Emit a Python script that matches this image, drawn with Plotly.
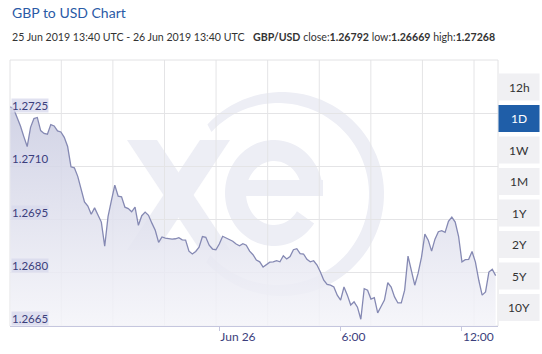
import numpy as np
import pandas as pd
import plotly.graph_objects as go

# ---------------- data ----------------
times = pd.date_range("2019-06-25 13:40", periods=145, freq="10min")
rates = [
    1.27268, 1.27262, 1.27238, 1.27214, 1.27184, 1.27156, 1.27210, 1.27235, 1.27238, 1.27201,
    1.27193, 1.27191, 1.27218, 1.27214, 1.27200, 1.27197, 1.27182, 1.27156, 1.27099, 1.27096,
    1.27072, 1.27033, 1.27000, 1.26988, 1.26965, 1.26983, 1.26961, 1.26943, 1.26875, 1.26959,
    1.27004, 1.27047, 1.27016, 1.27014, 1.26985, 1.26981, 1.26972, 1.26985, 1.26934, 1.26961,
    1.26971, 1.26962, 1.26940, 1.26920, 1.26886, 1.26901, 1.26898, 1.26896, 1.26895, 1.26896,
    1.26899, 1.26893, 1.26892, 1.26861, 1.26853, 1.26860, 1.26872, 1.26902, 1.26900, 1.26878,
    1.26867, 1.26865, 1.26881, 1.26903, 1.26899, 1.26893, 1.26889, 1.26881, 1.26876, 1.26882,
    1.26878, 1.26861, 1.26851, 1.26836, 1.26831, 1.26816, 1.26824, 1.26830, 1.26831, 1.26834,
    1.26831, 1.26848, 1.26839, 1.26846, 1.26865, 1.26868, 1.26854, 1.26853, 1.26838, 1.26831,
    1.26834, 1.26822, 1.26802, 1.26779, 1.26767, 1.26765, 1.26760, 1.26737, 1.26723, 1.26760,
    1.26737, 1.26709, 1.26718, 1.26703, 1.26669, 1.26755, 1.26751, 1.26726, 1.26730, 1.26687,
    1.26705, 1.26723, 1.26772, 1.26760, 1.26732, 1.26715, 1.26715, 1.26751, 1.26847, 1.26805,
    1.26765, 1.26799, 1.26844, 1.26909, 1.26892, 1.26861, 1.26895, 1.26916, 1.26919, 1.26914,
    1.26945, 1.26957, 1.26943, 1.26903, 1.26831, 1.26837, 1.26838, 1.26860, 1.26830, 1.26779,
    1.26737, 1.26746, 1.26802, 1.26810, 1.26792,
]
y_ticks = [1.2665, 1.2680, 1.2695, 1.2710, 1.2725]
y_grid = [1.2665, 1.2680, 1.2695, 1.2710, 1.2725, 1.2740]
x_tickvals = ["2019-06-26 00:00", "2019-06-26 06:00", "2019-06-26 12:00"]
x_ticktext = ["Jun 26", "6:00", "12:00"]
buttons = ["12h", "1D", "1W", "1M", "1Y", "2Y", "5Y", "10Y"]
selected_button = "1D"

title_text = "GBP to USD Chart"
range_text = "25 Jun 2019 13:40 UTC - 26 Jun 2019 13:40 UTC"
stats_text = "<b>GBP/USD</b> close:<b>1.26792</b> low:<b>1.26669</b> high:<b>1.27268</b>"

# ---------------- geometry helpers (pixel -> paper) ----------------
W, H = 542, 354
L, R, T, B = 10, 498, 60, 326
def px(x):
    return (x - L) / (R - L)
def py(y):
    return (B - y) / (B - T)
def path_from(pts):
    return "M " + " L ".join(f"{px(x):.5f},{py(y):.5f}" for x, y in pts) + " Z"

FONT = "Lato"
TXT = "#3b3e7c"
WM = "#edeef5"

shapes = []
# watermark ring (open on the left)
cx, cy = 282, 194
a = np.radians(np.linspace(-138, 137, 80))
outer = [(cx + 102 * np.cos(t), cy - 102 * np.sin(t)) for t in a]
inner = [(cx - 4 + 91 * np.cos(t), cy - 91 * np.sin(t)) for t in a[::-1]]
shapes.append(dict(type="path", xref="paper", yref="paper", path=path_from(outer + inner),
                   fillcolor=WM, line=dict(width=0), layer="below"))
# watermark "e"
ex, ey = 274, 193
a = np.radians(np.linspace(-2, 325, 80))
outer = [(ex + 49 * np.cos(t), ey - 53 * np.sin(t)) for t in a]
inner = [(ex + 28 * np.cos(t), ey - 32 * np.sin(t)) for t in a[::-1]]
shapes.append(dict(type="path", xref="paper", yref="paper", path=path_from(outer + inner),
                   fillcolor=WM, line=dict(width=0), layer="below"))
shapes.append(dict(type="path", xref="paper", yref="paper",
                   path=path_from([(ex - 30, 180), (ex + 49, 180), (ex + 49, 196), (ex - 30, 196)]),
                   fillcolor=WM, line=dict(width=0), layer="below"))
# watermark "x"
shapes.append(dict(type="path", xref="paper", yref="paper",
                   path=path_from([(127, 140), (157, 140), (230, 250), (200, 250)]),
                   fillcolor=WM, line=dict(width=0), layer="below"))
shapes.append(dict(type="path", xref="paper", yref="paper",
                   path=path_from([(200, 140), (230, 140), (157, 250), (127, 250)]),
                   fillcolor=WM, line=dict(width=0), layer="below"))
# vertical grid lines
for i in range(9):
    gx = 61.3 + 51.59 * i
    shapes.append(dict(type="line", xref="paper", yref="paper", x0=px(gx), x1=px(gx), y0=0, y1=1,
                       line=dict(color="#e4e4e6", width=1), layer="below"))
# plot border
shapes.append(dict(type="rect", xref="paper", yref="paper", x0=0, x1=1, y0=0, y1=1,
                   line=dict(color="#e2e2e4", width=1), layer="below"))

annotations = []
# range buttons
for i, lab in enumerate(buttons):
    c = 87 + 31.5 * i
    sel = lab == selected_button
    shapes.append(dict(type="rect", xref="paper", yref="paper",
                       x0=px(498.5), x1=px(539.5), y0=py(c + 13.5), y1=py(c - 13.5),
                       fillcolor="#1f5ea8" if sel else "#f0f0f3", line=dict(width=0), layer="above"))
    annotations.append(dict(xref="paper", yref="paper", x=px(519), y=py(c), text=lab, showarrow=False,
                            xanchor="center", yanchor="middle",
                            font=dict(family=FONT, size=12, color="#ffffff" if sel else "#333333")))
# y labels with background boxes
for v in y_ticks:
    annotations.append(dict(xref="paper", yref="y", x=0, y=v, xshift=1, text=f"{v:.4f}",
                            showarrow=False, xanchor="left", yanchor="bottom",
                            bgcolor="rgba(216,218,236,0.8)", borderpad=0,
                            font=dict(family=FONT, size=11.5, color=TXT)))
# titles
annotations.append(dict(xref="paper", yref="paper", x=0, y=py(13), text=title_text, showarrow=False,
                        xanchor="left", yanchor="middle",
                        font=dict(family=FONT, size=14, color="#2a5aa6")))
annotations.append(dict(xref="paper", yref="paper", x=0, y=py(37), text=range_text, showarrow=False,
                        xanchor="left", yanchor="middle",
                        font=dict(family=FONT, size=10.6, color="#333333")))
annotations.append(dict(xref="paper", yref="paper", x=px(251), y=py(37), text=stats_text, showarrow=False,
                        xanchor="left", yanchor="middle",
                        font=dict(family=FONT, size=10.6, color="#333333")))

fig = go.Figure()
fig.add_trace(go.Scatter(
    x=times, y=rates, mode="lines",
    line=dict(color="#8589b3", width=1.3),
    fill="tozeroy",
    fillgradient=dict(type="vertical", start=1.2665, stop=1.2727,
                      colorscale=[[0, "rgba(244,244,249,0.85)"], [1, "rgba(203,205,226,0.88)"]]),
    hoverinfo="skip",
))

fig.update_layout(
    width=W, height=H,
    margin=dict(l=L, r=W - R, t=T, b=H - B),
    paper_bgcolor="white", plot_bgcolor="rgba(0,0,0,0)",
    showlegend=False,
    shapes=shapes, annotations=annotations,
    xaxis=dict(range=["2019-06-25 13:39", "2019-06-26 13:47"], showgrid=False, zeroline=False,
               tickvals=x_tickvals, ticktext=x_ticktext, ticks="outside", ticklen=4,
               tickcolor="#c5c6de", showline=True, linecolor="#c5c6de", linewidth=1,
               ticklabelposition="outside right",
               tickfont=dict(family=FONT, size=12, color=TXT)),
    yaxis=dict(range=[1.2665, 1.2740], tickvals=y_grid, showticklabels=False, showgrid=True,
               gridcolor="#e4e4e6", gridwidth=1, zeroline=False),
)

fig.write_html("out.html")
